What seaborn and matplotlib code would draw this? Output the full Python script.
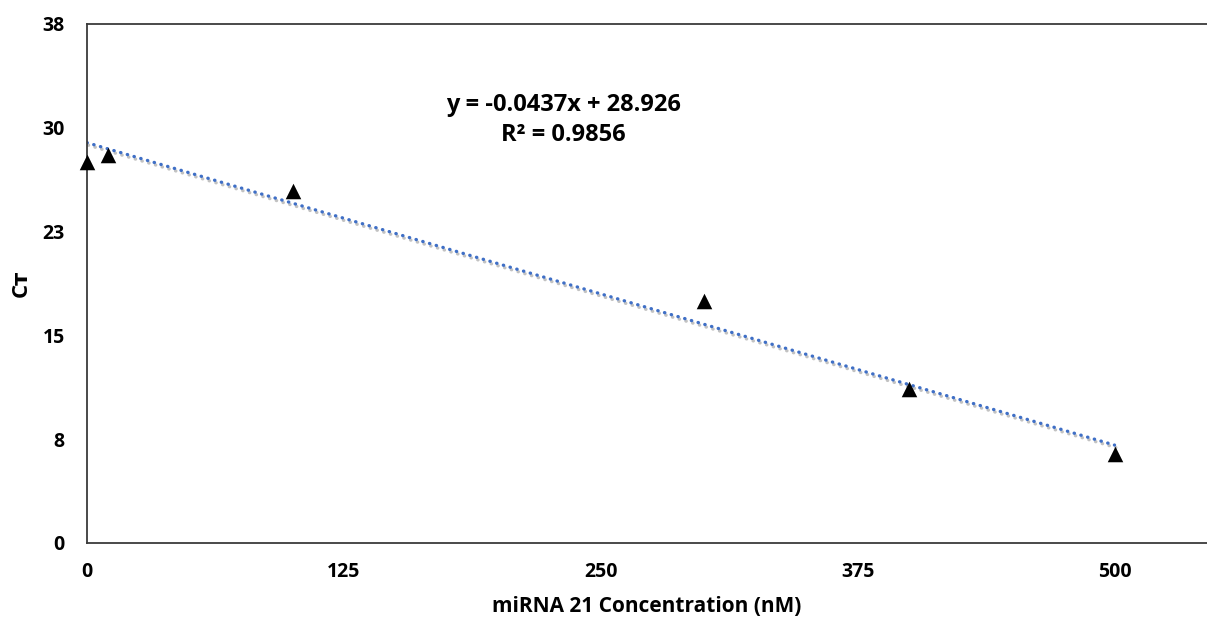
import numpy as np
import pandas as pd
import matplotlib
matplotlib.use("Agg")
import matplotlib.pyplot as plt
import matplotlib.patheffects as pe
import seaborn as sns

# data
conc_nm = [0, 10, 100, 300, 400, 500]
ct_values = [27.5, 28.0, 25.4, 17.5, 11.1, 6.4]

# trendline as printed on the chart
slope = -0.0437
intercept = 28.926
r_squared = 0.9856

x_ticks = [0, 125, 250, 375, 500]
y_ticks = [0, 7.5, 15, 22.5, 30, 37.5]
y_tick_labels = ["0", "8", "15", "23", "30", "38"]

sns.set_theme(style="white")
plt.rcParams['font.family'] = ['Open Sans', 'DejaVu Sans']
plt.rcParams['font.weight'] = 'bold'
plt.rcParams['text.color'] = 'black'
plt.rcParams['axes.labelcolor'] = 'black'

df = pd.DataFrame({'conc': conc_nm, 'ct': ct_values})
trend = pd.DataFrame({'conc': [min(conc_nm), max(conc_nm)]})
trend['ct'] = slope * trend['conc'] + intercept

fig = plt.figure(figsize=(12.07, 6.24), dpi=100)
ax = fig.add_axes([87 / 1207, 81 / 624, 1120 / 1207, 519 / 624])

# dotted trendline with a soft grey shadow like the Excel one
sns.lineplot(data=trend, x='conc', y='ct', ax=ax, color='#3F6FC6', lw=2.4,
             linestyle=(0, (0.1, 2.0)), dash_capstyle='round',
             path_effects=[pe.SimpleLineShadow(offset=(0.9, -1.8), shadow_color='#9a9a9a', alpha=0.6),
                           pe.Normal()])

sns.scatterplot(data=df, x='conc', y='ct', ax=ax, marker='^', s=125,
                color='black', edgecolor='black', linewidth=0, zorder=5, clip_on=False)

ax.set_xlim(0, 545)
ax.set_ylim(0, 37.5)
ax.set_xticks(x_ticks)
ax.set_xticklabels([str(v) for v in x_ticks])
ax.set_yticks(y_ticks)
ax.set_yticklabels(y_tick_labels)
ax.tick_params(axis='both', length=0, labelsize=14, colors='black')
ax.tick_params(axis='y', pad=16)
ax.tick_params(axis='x', pad=14)
for lab in ax.get_xticklabels() + ax.get_yticklabels():
    lab.set_fontweight('bold')

for side in ['left', 'bottom', 'top']:
    ax.spines[side].set_visible(True)
    ax.spines[side].set_color('#3a3a3a')
    ax.spines[side].set_linewidth(1.3)
ax.spines['right'].set_visible(False)

ax.set_xlabel('miRNA 21 Concentration (nM)', fontsize=15, fontweight='bold', labelpad=10)
ax.set_ylabel('Cᴛ', fontsize=16, fontweight='bold', labelpad=8)

ax.text(0.425, 0.815, 'y = {:.4f}x + {:.3f}\nR² = {:.4f}'.format(slope, intercept, r_squared),
        transform=ax.transAxes, ha='center', va='center', fontsize=17,
        fontweight='bold', linespacing=1.35)

fig.savefig('out.png', dpi=100)
plt.close()
